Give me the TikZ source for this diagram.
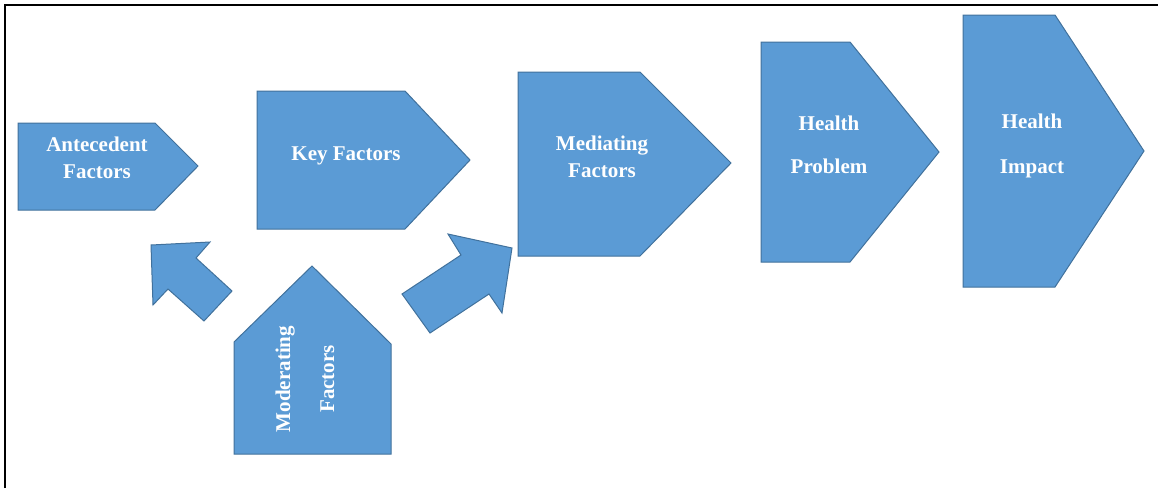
\documentclass[tikz,border=0pt]{standalone}
\usepackage{fontspec}
\setmainfont{Liberation Serif}
\definecolor{boxblue}{HTML}{5B9BD5}
\definecolor{boxedge}{HTML}{41719C}
\begin{document}
\begin{tikzpicture}[x=1pt,y=-1pt,
  blk/.style={fill=boxblue,draw=boxedge,line width=1pt,line join=miter},
  lbl/.style={text=white,font=\bfseries\fontsize{21}{24}\selectfont,inner sep=0pt,anchor=base},
  frame/.style={draw=black,line width=2.5pt}]
\useasboundingbox (0,0) rectangle (1158,488);
% frame (top and left edges)
\draw[frame] (5,488) -- (5,5) -- (1158,5);
% process shapes
\draw[blk] (18,123) -- (155,123) -- (198,166) -- (155,210) -- (18,210) -- cycle;
\draw[blk] (257,91) -- (405,91) -- (470,160) -- (405,229) -- (257,229) -- cycle;
\draw[blk] (518,72) -- (640,72) -- (731,163) -- (640,256) -- (518,256) -- cycle;
\draw[blk] (761,42) -- (850,42) -- (939,152) -- (850,262) -- (761,262) -- cycle;
\draw[blk] (963,15) -- (1055,15) -- (1144,151) -- (1055,287) -- (963,287) -- cycle;
% moderating house
\draw[blk] (234,454) -- (234,342) -- (312,266) -- (391,344) -- (391,454) -- cycle;
% block arrows
\draw[blk] (151,245) -- (210,242) -- (196,258) -- (232,291) -- (204,321) -- (168,289) -- (153,305) -- cycle;
\draw[blk] (512,248) -- (448,234) -- (461,255) -- (402,294) -- (430,333) -- (489,294) -- (502,313) -- cycle;
% labels
\node[lbl] (a1) at (97,151.5) {Antecedent};
\node[lbl] (a2) at (97,178.5) {Factors};
\node[lbl] (k1) at (346,160) {Key Factors};
\node[lbl] (m1) at (602,150) {Mediating};
\node[lbl] (m2) at (602,177) {Factors};
\node[lbl] (p1) at (829,130) {Health};
\node[lbl] (p2) at (829,173) {Problem};
\node[lbl] (i1) at (1032,128) {Health};
\node[lbl] (i2) at (1032,173) {Impact};
\node[lbl,rotate=90] (o1) at (290,379) {Moderating};
\node[lbl,rotate=90] (o2) at (334,379) {Factors};
\end{tikzpicture}
\end{document}
